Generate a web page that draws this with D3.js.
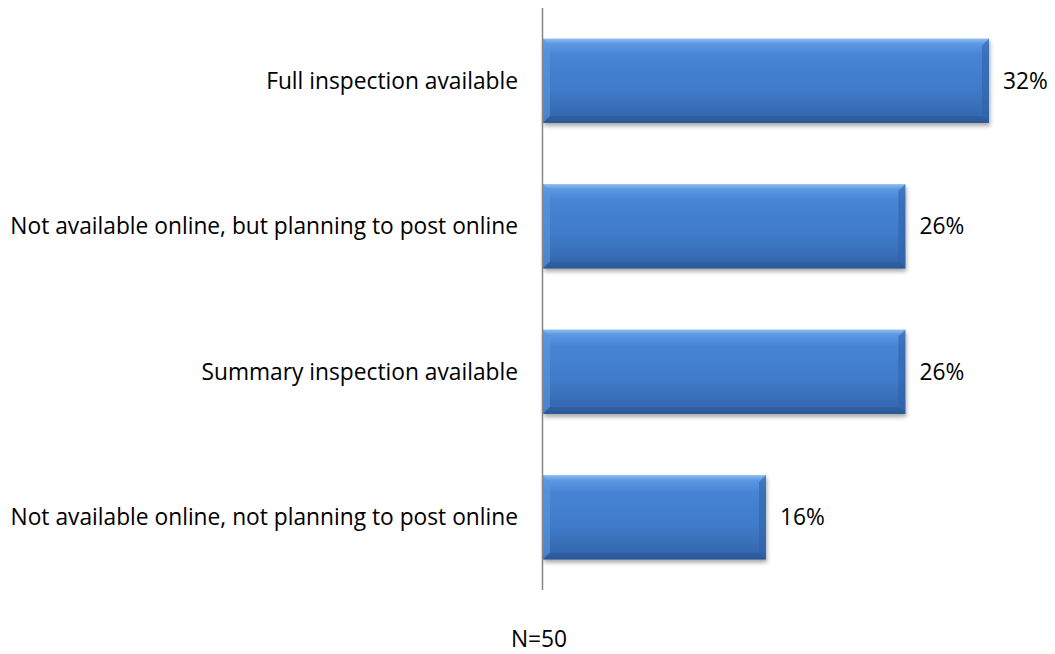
<!DOCTYPE html>
<html><head><meta charset="utf-8">
<script src="https://cdn.jsdelivr.net/npm/d3@7"></script>
<style>body{margin:0;background:#fff}svg{display:block}text{font-family:"Open Sans",sans-serif;fill:#000}</style>
</head><body><svg id="c" width="1055" height="654"></svg>
<script>
const categories = ["Full inspection available","Not available online, but planning to post online","Summary inspection available","Not available online, not planning to post online"];
const values = [32, 26, 26, 16];
const valueLabels = ["32%","26%","26%","16%"];
const note = "N=50";

const svg = d3.select("#c");
const m = {left:543, top:8, bottom:590};
const x = d3.scaleLinear().domain([0, 32]).range([m.left, 989]);
const y = d3.scaleBand().domain(categories).range([m.top, m.bottom]).paddingInner(0.42).paddingOuter(0.21);

const defs = svg.append("defs");
const g = defs.append("linearGradient").attr("id","bg").attr("x1",0).attr("x2",0).attr("y1",0).attr("y2",1);
[[0,"#8fc0f5"],[0.06,"#5c98e2"],[0.2,"#4784d4"],[0.6,"#3f7bc9"],[0.92,"#3468b0"],[1,"#2a5590"]].forEach(([o,c])=>g.append("stop").attr("offset",o).attr("stop-color",c));
const f = defs.append("filter").attr("id","sh").attr("x","-5%").attr("y","-10%").attr("width","110%").attr("height","130%");
f.append("feDropShadow").attr("dx",1).attr("dy",3).attr("stdDeviation",2).attr("flood-color","#000").attr("flood-opacity",0.35);

const bars = svg.append("g").selectAll("g").data(categories).join("g");
bars.append("rect").attr("x",x(0)).attr("y",d=>y(d)).attr("width",(d,i)=>x(values[i])-x(0)).attr("height",y.bandwidth())
  .attr("fill","url(#bg)").attr("filter","url(#sh)");
bars.append("polygon").attr("points",(d,i)=>{const x0=x(0),x1=x(values[i]),y0=y(d),h=y.bandwidth(),b=7;
  return `${x1},${y0} ${x1},${y0+h} ${x1-b},${y0+h-b} ${x1-b},${y0+b}`;}).attr("fill","#2f63a8").attr("opacity",0.6);
bars.append("polygon").attr("points",(d,i)=>{const x0=x(0),x1=x(values[i]),y0=y(d),h=y.bandwidth(),b=7;
  return `${x0},${y0} ${x0+b},${y0+b} ${x0+b},${y0+h-b} ${x0},${y0+h}`;}).attr("fill","#5b97e0").attr("opacity",0.6);
bars.append("polygon").attr("points",(d,i)=>{const x0=x(0),x1=x(values[i]),y0=y(d),h=y.bandwidth(),b=7;
  return `${x0},${y0+h} ${x0+b},${y0+h-b} ${x1-b},${y0+h-b} ${x1},${y0+h}`;}).attr("fill","#2b5a9a").attr("opacity",0.5);

const cat = svg.append("g").selectAll("text").data(categories).join("text")
  .attr("x",518).attr("y",d=>y(d)+y.bandwidth()/2).attr("dy","0.35em").attr("text-anchor","end")
  .attr("font-size",19).text(d=>d);
const w = cat.nodes()[1].getComputedTextLength();
const fs = 19*508/w;
cat.attr("font-size",fs);
svg.append("g").selectAll("text").data(categories).join("text")
  .attr("x",(d,i)=>x(values[i])+14).attr("y",d=>y(d)+y.bandwidth()/2).attr("dy","0.35em")
  .attr("font-size",fs).text((d,i)=>valueLabels[i]);

svg.append("line").attr("x1",m.left-0.5).attr("x2",m.left-0.5).attr("y1",m.top).attr("y2",m.bottom).attr("stroke","#868686").attr("stroke-width",1.5);
svg.append("text").attr("x",539).attr("y",647).attr("text-anchor","middle").attr("font-size",fs).text(note);
</script></body></html>
